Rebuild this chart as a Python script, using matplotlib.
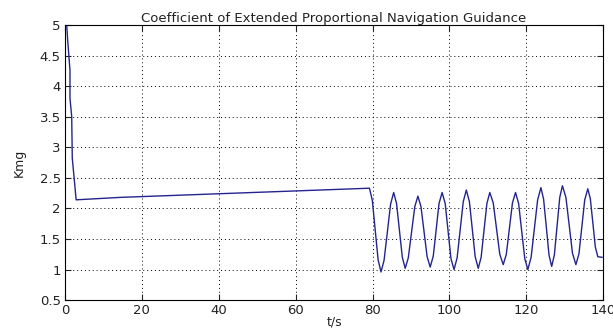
import matplotlib.pyplot as plt

plt.rcParams['font.family'] = ['DejaVu Sans']

# Kmg vs time
t_start = [0.45, 0.7, 1.3, 1.3, 1.75, 1.9, 2.6, 2.9, 14.4, 79.2]
k_start = [5.0, 4.75, 4.26, 3.8, 3.5, 2.82, 2.35, 2.14, 2.18, 2.33]

t_osc = [79.95, 80.7, 81.45, 82.2, 83.0, 83.85, 84.7, 85.5,
         86.25, 87.0, 87.75, 88.5, 89.3, 90.15, 91.0, 91.8,
         92.6, 93.4, 94.2, 95.0, 95.8, 96.55, 97.3, 98.1,
         98.9, 99.65, 100.4, 101.2, 102.0, 102.8, 103.6, 104.4,
         105.2, 105.95, 106.7, 107.5, 108.25, 109.0, 109.75, 110.5,
         111.4, 112.25, 113.1, 114.0, 114.8, 115.6, 116.4, 117.2,
         118.0, 118.8, 119.6, 120.4, 121.25, 122.1, 122.95, 123.8,
         124.5, 125.2, 125.9, 126.6, 127.3, 128.0, 128.7, 129.4,
         130.3, 131.15, 132.0, 132.9, 133.7, 134.45, 135.2, 136.0,
         136.65, 137.3, 137.95, 138.6, 139.7]
k_osc = [2.13, 1.645, 1.16, 0.96, 1.15, 1.61, 2.07, 2.26,
         2.08, 1.64, 1.20, 1.02, 1.19, 1.61, 2.03, 2.20,
         2.03, 1.62, 1.21, 1.04, 1.22, 1.65, 2.08, 2.26,
         2.08, 1.63, 1.18, 1.00, 1.19, 1.65, 2.11, 2.30,
         2.11, 1.66, 1.21, 1.02, 1.20, 1.64, 2.08, 2.26,
         2.09, 1.67, 1.25, 1.08, 1.25, 1.67, 2.09, 2.26,
         2.08, 1.63, 1.18, 1.00, 1.20, 1.67, 2.14, 2.34,
         2.15, 1.70, 1.24, 1.05, 1.24, 1.71, 2.18, 2.37,
         2.18, 1.73, 1.27, 1.08, 1.26, 1.70, 2.14, 2.32,
         2.16, 1.77, 1.37, 1.21, 1.20]

t = t_start + t_osc
kmg = k_start + k_osc

fig = plt.figure(figsize=(6.13, 3.28), dpi=100)
ax = fig.add_axes([0.106, 0.085, 0.878, 0.839])
ax.plot(t, kmg, color='#24248f', linewidth=1.0)

ax.set_xlim(0, 140)
ax.set_ylim(0.5, 5)
ax.set_xticks(range(0, 141, 20))
ax.set_yticks([0.5, 1, 1.5, 2, 2.5, 3, 3.5, 4, 4.5, 5])
ax.set_yticklabels(['0.5', '1', '1.5', '2', '2.5', '3', '3.5', '4', '4.5', '5'])
ax.grid(True, linestyle=(0, (1, 3)), color='black', linewidth=0.7)
ax.tick_params(direction='in', top=True, right=True, labelsize=9.5,
               length=4, colors='#222222', pad=3)
ax.set_xlabel('t/s', fontsize=9, labelpad=-1, color='#222222')
ax.set_ylabel('Kmg', fontsize=9, labelpad=10, color='#222222')
ax.set_title('Coefficient of Extended Proportional Navigation Guidance',
             fontsize=9.5, pad=2, color='#222222')

plt.savefig('out.png', dpi=100)
